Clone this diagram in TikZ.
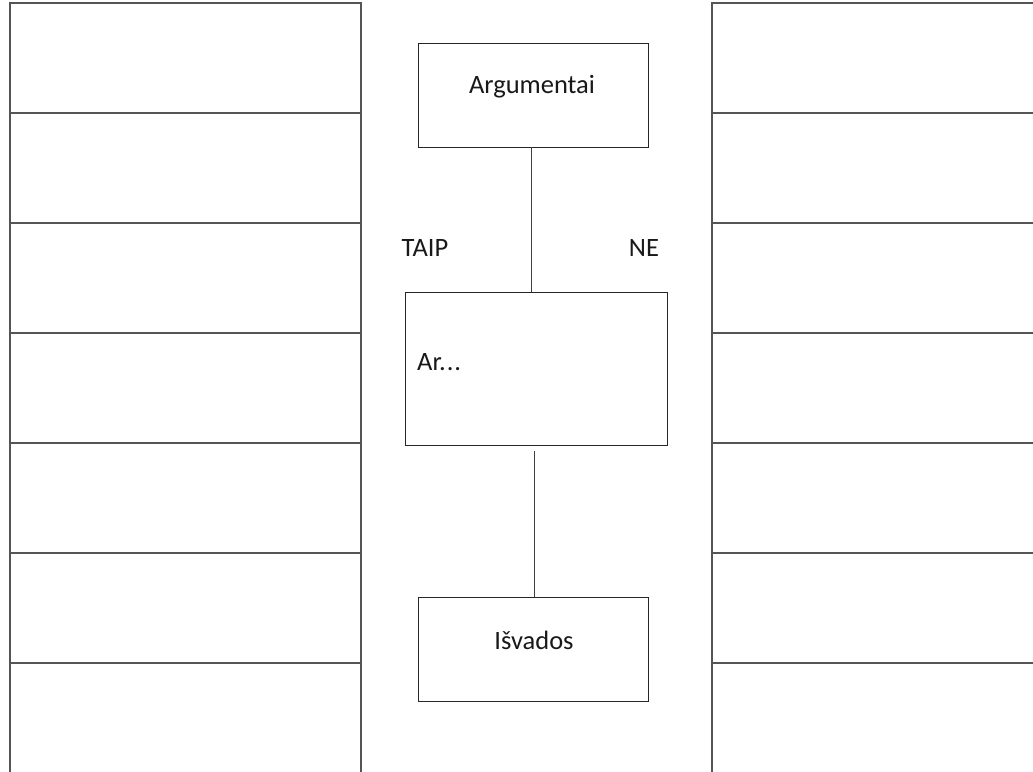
\documentclass[tikz,border=0pt]{standalone}
\usepackage{fontspec}
\setmainfont{Carlito}
\begin{document}
\begin{tikzpicture}[x=1pt,y=-1pt,
  cell/.style={draw=colline,line width=1.1pt,minimum width=351pt,minimum height=110pt,inner sep=0pt,outer sep=0pt},
  box/.style={draw=black!85,line width=1pt,inner sep=0pt,outer sep=0pt},
  lbl/.style={font=\fontsize{26.5}{30}\selectfont,inner sep=0pt,text=black!90},
  conn/.style={draw=black!75,line width=1pt}]
\definecolor{colline}{HTML}{555555}
\useasboundingbox (0,0) rectangle (1033,771);
\fill[white] (0,0) rectangle (1033,771);
% side columns
\foreach \i in {0,...,6} {
  \node[cell] (L\i) at (185.5,{58+110*\i}) {};
  \node[cell] (R\i) at (887.5,{58+110*\i}) {};
}
% central boxes
\node[box,minimum width=230pt,minimum height=104pt] (arg) at (533,95) {};
\node[lbl] (argt) at (532,87) {Argumentai};
\node[box,minimum width=262pt,minimum height=153pt] (ar) at (536,368.5) {};
\node[lbl,anchor=west] (art) at (417,362) {Ar.\kern1pt.\kern1pt.};
\node[box,minimum width=230pt,minimum height=104pt] (isv) at (533,649) {};
\node[lbl] (isvt) at (534,640) {Išvados};
\node[lbl] (taip) at (425,248) {TAIP};
\node[lbl] (ne) at (644,248) {NE};
% connectors
\draw[conn] ([xshift=-2pt]arg.south) -- ([xshift=-2pt]arg.south |- ar.north);
\coordinate (c2) at (534,451);
\draw[conn] (c2) -- (c2 |- isv.north);
\end{tikzpicture}
\end{document}
